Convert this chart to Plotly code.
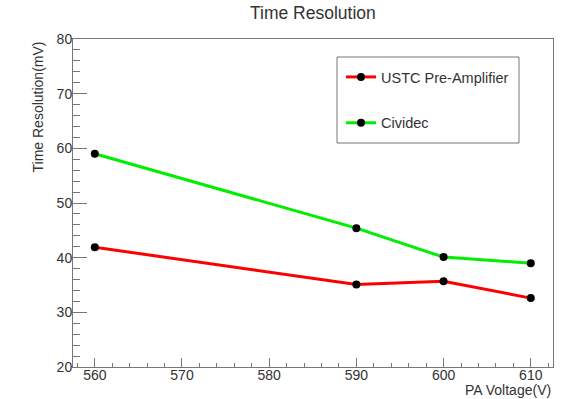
import plotly.graph_objects as go

# PA voltage scan points (V)
voltage = [560, 590, 600, 610]
# Time resolution per front-end (mV)
ustc_res = [41.9, 35.1, 35.7, 32.6]
cividec_res = [59.0, 45.4, 40.1, 39.0]

series = [
    ("USTC Pre-Amplifier", ustc_res, "#ff0000"),
    ("Cividec", cividec_res, "#00ee00"),
]

fig = go.Figure()
for i, (name, vals, col) in enumerate(series):
    fig.add_trace(go.Scatter(
        x=voltage, y=vals, name=name, mode="lines+markers",
        legendgroup=f"g{i}",
        line=dict(color=col, width=3),
        marker=dict(color="black", size=8),
    ))

font = "Liberation Sans, Arial, sans-serif"
frame = "#777777"
txt = "#333333"

W, H = 577, 399
L, R, T, B = 73, 24, 39, 32
plot_w = W - L - R
plot_h = H - T - B


def px_x(x):
    return (x - L) / plot_w


def px_y(y):
    return 1 - (y - T) / plot_h


fig.update_layout(
    width=W, height=H,
    margin=dict(l=L, r=R, t=T, b=B),
    paper_bgcolor="white", plot_bgcolor="white",
    font=dict(family=font, size=14, color=txt),
    showlegend=True,
    legend=dict(
        x=px_x(341), y=px_y(61),
        xanchor="left", yanchor="top",
        borderwidth=0, bgcolor="rgba(0,0,0,0)",
        font=dict(size=14.5, color=txt),
        traceorder="grouped", tracegroupgap=24,
        itemwidth=30,
    ),
    shapes=[
        dict(type="rect", xref="paper", yref="paper",
             x0=px_x(337), x1=px_x(519), y0=px_y(57), y1=px_y(143),
             line=dict(color=frame, width=1), fillcolor="rgba(0,0,0,0)",
             layer="above"),
    ],
    annotations=[
        dict(text="Time Resolution", x=px_x(313), y=px_y(13),
             xref="paper", yref="paper",
             yanchor="middle", xanchor="center", showarrow=False,
             font=dict(size=17.5, color=txt)),
        dict(text="Time Resolution(mV)", x=px_x(37), y=px_y(40),
             xref="paper", yref="paper",
             xanchor="center", yanchor="top", textangle=-90,
             showarrow=False, font=dict(size=14, color=txt)),
        dict(text="PA Voltage(V)", x=1, y=px_y(390), xref="paper", yref="paper",
             xanchor="right", yanchor="middle",
             showarrow=False, font=dict(size=14, color=txt)),
    ],
)

fig.update_xaxes(
    range=[557.5, 612.55], tickvals=[560, 570, 580, 590, 600, 610],
    ticks="inside", ticklen=9, tickcolor=frame, tickwidth=1,
    minor=dict(dtick=2, tick0=560, ticks="inside", ticklen=4, tickcolor=frame),
    showgrid=False, zeroline=False,
    showline=True, linecolor=frame, linewidth=1, mirror=True,
    tickfont=dict(size=14, color=txt),
    ticklabelstandoff=-5,
)
fig.update_yaxes(
    range=[20, 80], tickvals=[20, 30, 40, 50, 60, 70, 80],
    ticks="inside", ticklen=14, tickcolor=frame, tickwidth=1,
    minor=dict(dtick=2, tick0=20, ticks="inside", ticklen=7, tickcolor=frame),
    showgrid=False, zeroline=False,
    showline=True, linecolor=frame, linewidth=1, mirror=True,
    tickfont=dict(size=14, color=txt),
    ticklabelstandoff=-3,
)

fig.write_html("out.html")
